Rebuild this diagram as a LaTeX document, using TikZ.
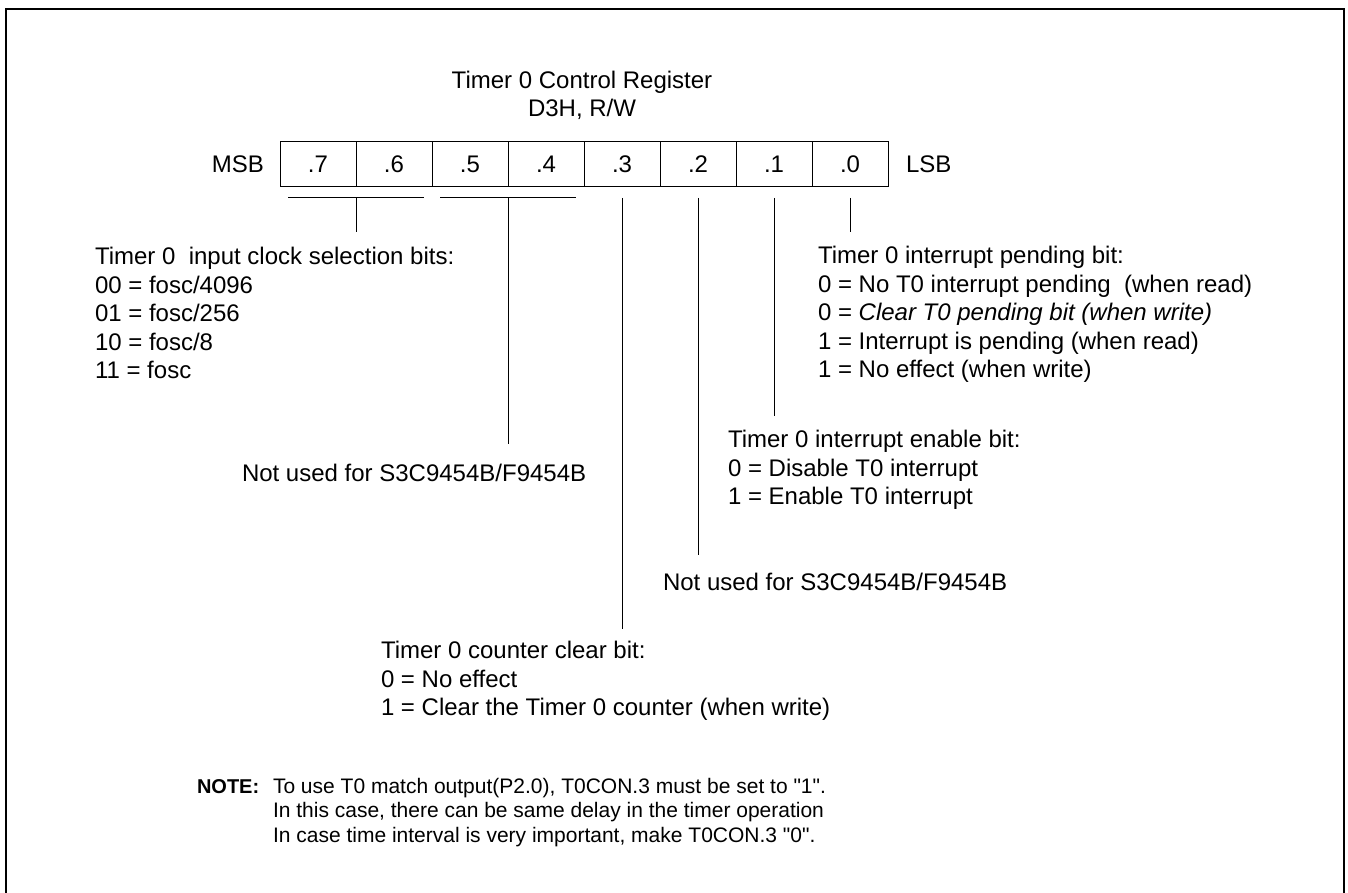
\documentclass[tikz,border=0pt]{standalone}
\usepackage{fontspec}
\setmainfont{Liberation Sans}
\begin{document}
\begin{tikzpicture}[x=1pt,y=-1pt,
  every node/.style={inner sep=0pt, outer sep=0pt},
  maintext/.style={font=\fontsize{24}{28.5}\selectfont, align=left, anchor=north west},
  notetext/.style={font=\fontsize{21}{24.5}\selectfont, align=left, anchor=north west},
  cell/.style={draw, line width=1pt, minimum width=76pt, minimum height=45pt, font=\fontsize{24}{28}\selectfont},
  lead/.style={line width=1pt},
  frame/.style={line width=1.8pt}]
\useasboundingbox (0,0) rectangle (1348,893);
% outer frame (bottom edge outside the picture)
\draw[frame] (6,893) -- (6,9) -- (1344,9) -- (1344,893);
% title
\node[font=\fontsize{24}{28}\selectfont, align=center, anchor=north] (title) at (582,69)
  {\strut Timer 0 Control Register\\D3H, R/W};
% register cells
\node[cell] (b7) at (318,164.5) {.7};
\node[cell] (b6) at (394,164.5) {.6};
\node[cell] (b5) at (470,164.5) {.5};
\node[cell] (b4) at (546,164.5) {.4};
\node[cell] (b3) at (622,164.5) {.3};
\node[cell] (b2) at (698,164.5) {.2};
\node[cell] (b1) at (774,164.5) {.1};
\node[cell] (b0) at (850,164.5) {.0};
\node[font=\fontsize{24}{28}\selectfont, anchor=east] (msb) at (264,164.5) {MSB};
\node[font=\fontsize{24}{28}\selectfont, anchor=west] (lsb) at (906,164.5) {LSB};
% texts
\node[maintext] (clk) at (95,245) {\strut Timer 0\ \ input clock selection bits:\\00 = fosc/4096\\01 = fosc/256\\10 = fosc/8\\11 = fosc};
\node[maintext] (nu54) at (242,462) {\strut Not used for S3C9454B/F9454B};
\node[maintext] (clr) at (381,639) {\strut Timer 0 counter clear bit:\\0 = No effect\\1 = Clear the Timer 0 counter (when write)};
\node[maintext] (nu2) at (663,571) {\strut Not used for S3C9454B/F9454B};
\node[maintext] (ena) at (728,428) {\strut Timer 0 interrupt enable bit:\\0 = Disable T0 interrupt\\1 = Enable T0 interrupt};
\node[maintext] (pnd) at (818,244) {\strut Timer 0 interrupt pending bit:\\0 = No T0 interrupt pending\ \ (when read)\\0 = \textit{Clear T0 pending bit (when write)}\\1 = Interrupt is pending (when read)\\1 = No effect (when write)};
\node[notetext, font=\fontsize{20}{24.5}\selectfont\bfseries] (notelbl) at (197,776.5) {\strut NOTE:};
\node[notetext] (note) at (273,776) {\strut To use T0 match output(P2.0), T0CON.3 must be set to \textquotedbl 1\textquotedbl.\\In this case, there can be same delay in the timer operation\\In case time interval is very important, make T0CON.3 \textquotedbl 0\textquotedbl.};
% leader coordinates
\coordinate (g76l) at (288,198);
\coordinate (g76r) at (424,198);
\coordinate (g76m) at (356,198);
\coordinate (g76e) at (356,232);
\coordinate (g54l) at (440,198);
\coordinate (g54r) at (576,198);
\coordinate (g54m) at (508,198);
\coordinate (g54e) at (508,444);
\coordinate (l3s) at (622,198);
\coordinate (l3e) at (622,629);
\coordinate (l2s) at (698,198);
\coordinate (l2e) at (698,555);
\coordinate (l1s) at (774,198);
\coordinate (l1e) at (774,416);
\coordinate (l0s) at (850,198);
\coordinate (l0e) at (850,232);
% leaders
\draw[lead] (g76l) -- (g76r);
\draw[lead] (g76m) -- (g76e);
\draw[lead] (g54l) -- (g54r);
\draw[lead] (g54m) -- (g54e);
\draw[lead] (l3s) -- (l3e);
\draw[lead] (l2s) -- (l2e);
\draw[lead] (l1s) -- (l1e);
\draw[lead] (l0s) -- (l0e);
\end{tikzpicture}
\end{document}
